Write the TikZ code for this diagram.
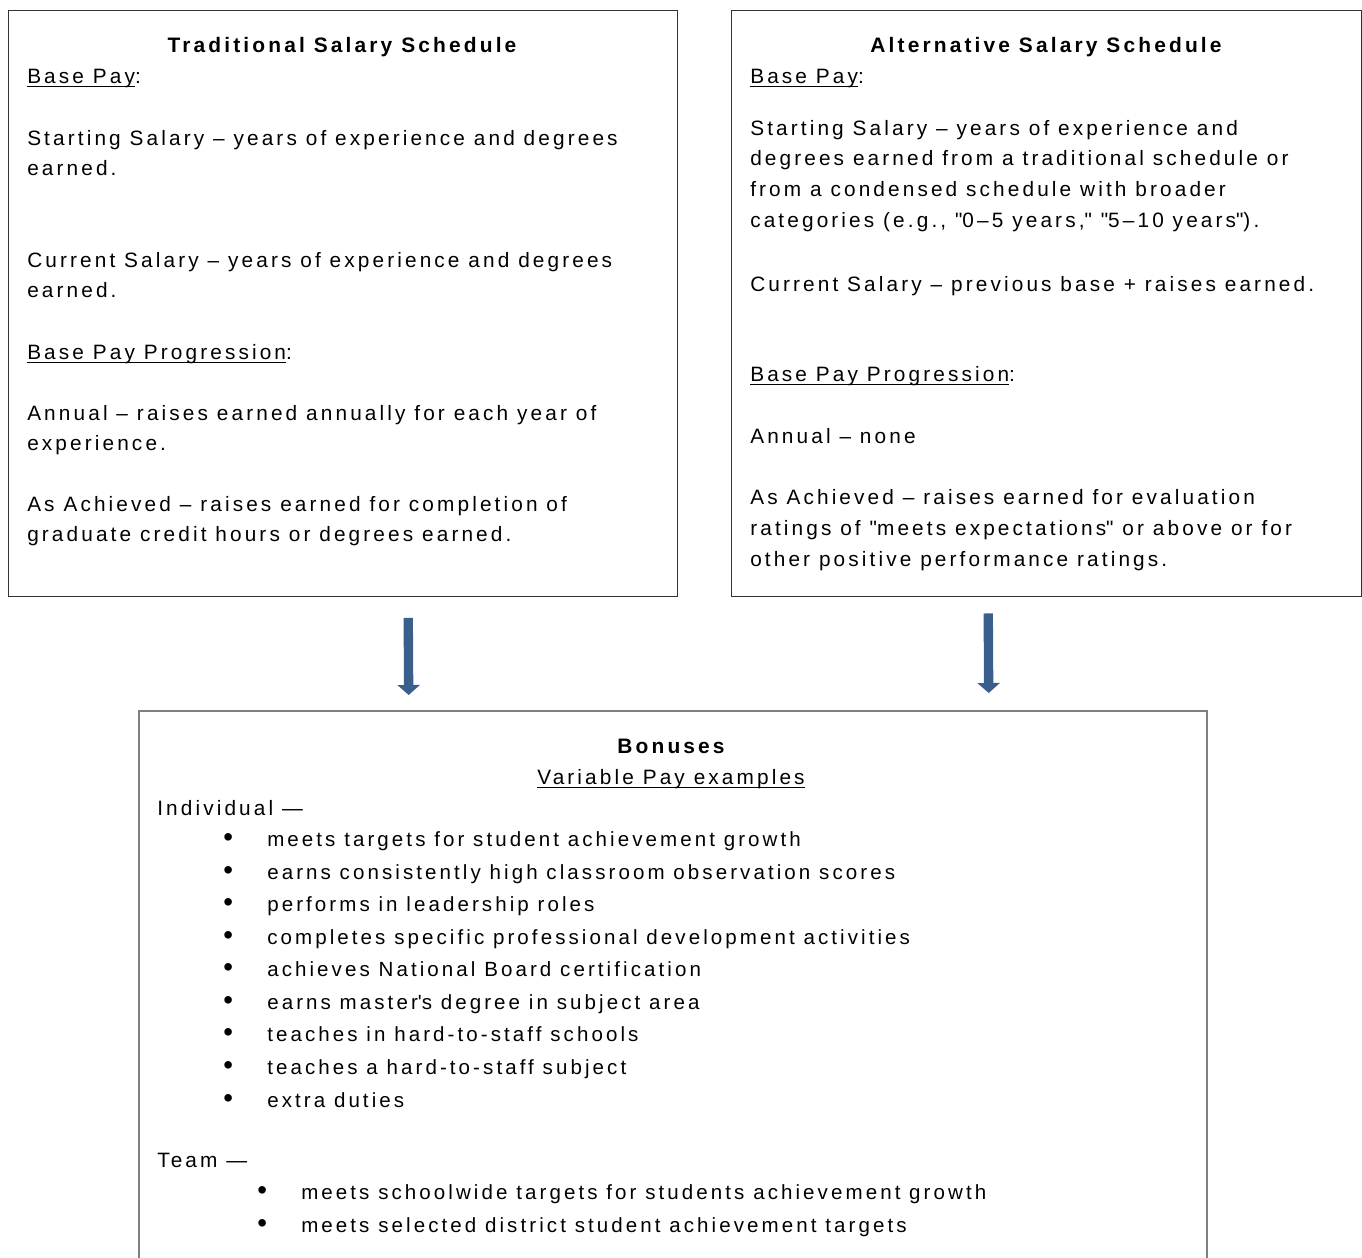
\documentclass[tikz,border=0pt]{standalone}
\usepackage{fontspec}
\setmainfont[LetterSpace=15]{Liberation Sans}
\usepackage{xcolor}
\usepackage{graphicx}
\usetikzlibrary{arrows.meta, positioning, calc}

\definecolor{arrowblue}{RGB}{58,95,140}
\definecolor{boxgray}{RGB}{128,128,128}

\newsavebox\ulbox
\newcommand\ulin[1]{\sbox\ulbox{#1}\rlap{\rule[-3pt]{\wd\ulbox}{1pt}}\usebox\ulbox}
\newcommand\blt{\llap{\makebox[33pt][l]{\scalebox{1.35}{\textbullet}}}}
\newcommand\qt{\textquotedbl}

\begin{document}
\begin{tikzpicture}[
    x=0.75pt, y=-0.75pt,
    panel/.style={rectangle, draw=black!80, line width=1.1pt,
                  anchor=north west, inner sep=0pt},
    bonuspanel/.style={rectangle, draw=boxgray, line width=1.8pt,
                       anchor=north west, inner sep=0pt},
    title/.style={anchor=base, inner sep=0pt,
                  font=\bfseries\fontsize{15.7}{20}\selectfont},
    body/.style={anchor=base west, inner sep=0pt, align=left,
                 font=\fontsize{15.6}{23}\selectfont},
    list/.style={body, font=\fontsize{15.4}{24.4}\selectfont},
    arr/.style={-{Triangle[length=7.5pt, width=16.5pt]}, line width=7pt, arrowblue},
]
\path[use as bounding box, clip] (0,0) rectangle (1362,1257);

%% Panels
\node[panel, minimum width=501.75pt, minimum height=439.5pt] (trad) at (8,9.5) {};
\node[panel, minimum width=472.5pt, minimum height=439.5pt] (alt) at (731,9.5) {};
\node[bonuspanel, minimum width=801pt, minimum height=420pt] (bonus) at (138,710) {};

%% Traditional schedule (multi-line nodes sit on their last baseline)
\node[title] (tradtitle) at (342,52) {Traditional Salary Schedule};
\node[body] (tradbase)  at (27,83)    {\ulin{Base Pay}:};
\node[body] (tradstart) at (27,175.7) {Starting Salary – years of experience and degrees\\earned.};
\node[body] (tradcur)   at (27,297.7) {Current Salary – years of experience and degrees\\earned.};
\node[body] (tradprog)  at (27,359)   {\ulin{Base Pay Progression}:};
\node[body] (tradann)   at (27,450.7) {Annual – raises earned annually for each year of\\experience.};
\node[body] (tradach)   at (27,541.7) {As Achieved – raises earned for completion of\\graduate credit hours or degrees earned.};

%% Alternative schedule
\node[title] (alttitle) at (1046,52) {Alternative Salary Schedule};
\node[body] (altbase)  at (750,83)    {\ulin{Base Pay}:};
\node[body] (altstart) at (750,227)   {Starting Salary – years of experience and\\degrees earned from a traditional schedule or\\from a condensed schedule with broader\\categories (e.g., \qt0–5 years,\qt\ \qt5–10 years\qt).};
\node[body] (altcur)   at (750,291)   {Current Salary – previous base + raises earned.};
\node[body] (altprog)  at (750,381)   {\ulin{Base Pay Progression}:};
\node[body] (altann)   at (750,443)   {Annual – none};
\node[body] (altach)   at (750,566.3) {As Achieved – raises earned for evaluation\\ratings of \qt meets expectations\qt\ or above or for\\other positive performance ratings.};

%% Bonuses
\node[title] (bontitle) at (671,753) {Bonuses};
\node[body, anchor=base] (bonsub) at (671,784) {\ulin{Variable Pay examples}};
\node[body] (indiv) at (157,815) {Individual —};
\node[list] (indivlist) at (267,1107) {\blt meets targets for student achievement growth\\
  \blt earns consistently high classroom observation scores\\
  \blt performs in leadership roles\\
  \blt completes specific professional development activities\\
  \blt achieves National Board certification\\
  \blt earns master\textquotesingle s degree in subject area\\
  \blt teaches in hard-to-staff schools\\
  \blt teaches a hard-to-staff subject\\
  \blt extra duties};
\node[body] (team) at (157,1167) {Team —};
\node[list] (teamlist) at (301,1232.4) {\blt meets schoolwide targets for students achievement growth\\
  \blt meets selected district student achievement targets};

%% Arrows
\draw[arr] ($(trad.south)+(65,21)$) -- ($(bonus.north)+(-264.5,-15)$);
\draw[arr] ($(alt.south)+(-58.5,16.5)$) -- ($(bonus.north)+(315.5,-17)$);

\end{tikzpicture}
\end{document}
